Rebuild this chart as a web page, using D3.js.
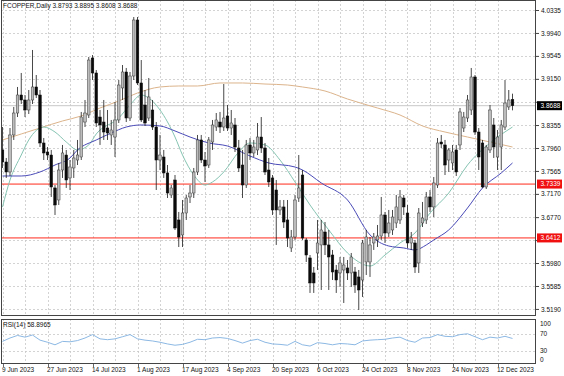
<!DOCTYPE html>
<html><head><meta charset="utf-8">
<script src="https://cdn.jsdelivr.net/npm/d3@7"></script>
<style>body{margin:0;background:#fff}svg{display:block}text{font-family:"Liberation Sans",Arial,sans-serif}</style>
</head><body><svg id="c" width="564" height="376"></svg>
<script>
// ---------------- DATA ----------------
const headerText = "FCOPPER,Daily  3.8793 3.8895 3.8608 3.8688";
const rsiText = "RSI(14) 58.8965";
const opens = [3.7926,3.7719,3.7547,3.8184,3.8562,3.8872,3.8786,3.8614,3.8786,3.9010,3.8872,3.8046,3.7891,3.7839,3.7272,3.7065,3.7581,3.7839,3.7444,3.7616,3.7753,3.7805,3.8407,3.8528,3.9509,3.9251,3.8493,3.8407,3.8304,3.8184,3.8149,3.8442,3.8993,3.9268,3.8476,3.9199,4.0163,3.9079,3.8700,3.8476,3.8614,3.8321,3.7753,3.7805,3.7530,3.7151,3.7409,3.6721,3.6463,3.6841,3.7117,3.7185,3.7547,3.8098,3.7753,3.7667,3.8063,3.8321,3.8407,3.8321,3.8511,3.8304,3.8356,3.7960,3.7667,3.7323,3.8012,3.7874,3.7926,3.8149,3.7960,3.7581,3.7444,3.7237,3.6893,3.6945,3.6721,3.6239,3.6428,3.7099,3.7495,3.6377,3.6067,3.5809,3.6153,3.6291,3.6514,3.6291,3.6118,3.5860,3.5809,3.5860,3.5895,3.5809,3.5826,3.5740,3.5688,3.5998,3.5998,3.6325,3.6377,3.6445,3.6807,3.6497,3.6549,3.6669,3.6721,3.7099,3.6841,3.6325,3.6325,3.5981,3.6669,3.6721,3.7117,3.6945,3.7323,3.8063,3.8012,3.7753,3.7702,3.7926,3.8012,3.8304,3.8476,3.8614,3.9182,3.8235,3.8046,3.7289,3.7926,3.8356,3.7805,3.7977,3.8321,3.8666,3.8793];
const highs = [3.8321,3.7788,3.8304,3.8666,3.9010,3.9251,3.8872,3.8958,3.9647,3.9216,3.8958,3.8132,3.7977,3.7926,3.7323,3.7702,3.8012,3.7926,3.7753,3.7926,3.8098,3.8580,3.8786,3.9526,3.9560,3.9302,3.8614,3.8786,3.8614,3.8442,3.8752,3.9130,3.9388,3.9337,3.9268,4.0214,4.0214,3.9474,3.8958,3.9165,3.8786,3.8407,3.8184,3.7926,3.7667,3.7323,3.7495,3.6859,3.7065,3.7151,3.7323,3.7616,3.8184,3.8184,3.7891,3.8149,3.8442,3.8562,3.8580,3.9061,3.8700,3.8614,3.8476,3.8098,3.7926,3.8098,3.8132,3.8098,3.8390,3.8493,3.8046,3.7788,3.7495,3.7409,3.7065,3.7065,3.7065,3.6549,3.7151,3.7839,3.7581,3.6411,3.6118,3.5912,3.6721,3.6721,3.6686,3.6549,3.6205,3.5946,3.6084,3.6084,3.6032,3.6153,3.5912,3.5860,3.6377,3.6549,3.6428,3.6497,3.6635,3.7117,3.6859,3.6893,3.6893,3.7151,3.7237,3.7151,3.6979,3.6514,3.6377,3.6927,3.7031,3.7203,3.7237,3.7461,3.8132,3.8184,3.8098,3.7960,3.8012,3.8012,3.8648,3.8580,3.8872,3.9337,3.9216,3.8304,3.8098,3.8012,3.8700,3.8476,3.8270,3.8442,3.9130,3.8958,3.8895];
const lows = [3.7616,3.7444,3.7478,3.8098,3.8493,3.8717,3.8493,3.8545,3.8717,3.8820,3.7977,3.7753,3.7753,3.7117,3.6807,3.6979,3.7444,3.7272,3.7237,3.7444,3.7667,3.7753,3.8321,3.8476,3.9130,3.8321,3.8012,3.8098,3.8098,3.8012,3.7805,3.8390,3.8786,3.8407,3.8425,3.9130,3.9044,3.8407,3.8339,3.8425,3.8270,3.7237,3.7581,3.7444,3.7099,3.7099,3.6549,3.6256,3.6256,3.6721,3.7013,3.7099,3.7495,3.7702,3.7375,3.7616,3.7926,3.8253,3.8218,3.8253,3.8253,3.8184,3.7891,3.7547,3.7099,3.7272,3.7753,3.7805,3.7839,3.7874,3.7495,3.7289,3.6807,3.6291,3.6807,3.6583,3.6256,3.6170,3.6377,3.7031,3.6377,3.5998,3.5465,3.5465,3.5860,3.5516,3.6118,3.5516,3.5688,3.5465,3.5568,3.5292,3.5688,3.5568,3.5465,3.5172,3.5396,3.5774,3.5740,3.6205,3.6256,3.6377,3.6325,3.6428,3.6463,3.6583,3.6652,3.6807,3.6239,3.6205,3.5809,3.5809,3.6600,3.6652,3.6859,3.6772,3.7272,3.7960,3.7495,3.7547,3.7581,3.7478,3.7926,3.8235,3.8407,3.8528,3.8184,3.7581,3.7272,3.7254,3.7874,3.7788,3.7581,3.7581,3.8270,3.8614,3.8608];
const closes = [3.7719,3.7547,3.8184,3.8562,3.8872,3.8786,3.8614,3.8786,3.9010,3.8872,3.8046,3.7874,3.7839,3.7289,3.6979,3.7581,3.7874,3.7409,3.7633,3.7788,3.7839,3.8493,3.8562,3.9474,3.9251,3.8390,3.8356,3.8235,3.8218,3.8270,3.8442,3.9044,3.9268,3.8476,3.9199,4.0163,3.9079,3.8442,3.8390,3.8838,3.8321,3.7753,3.7839,3.7530,3.7185,3.7272,3.6583,3.6428,3.6841,3.7099,3.7185,3.7547,3.8098,3.7753,3.7650,3.8098,3.8356,3.8442,3.8321,3.8476,3.8304,3.8390,3.7977,3.7616,3.7323,3.8012,3.7874,3.7977,3.8149,3.7960,3.7547,3.7375,3.6893,3.6893,3.6945,3.6686,3.6411,3.6428,3.7065,3.7272,3.6411,3.6118,3.5637,3.5637,3.6325,3.6549,3.6291,3.6084,3.5826,3.5688,3.5981,3.5946,3.5809,3.6084,3.5602,3.5516,3.6325,3.6428,3.6291,3.6428,3.6445,3.6807,3.6497,3.6669,3.6772,3.6945,3.7117,3.6945,3.6325,3.6411,3.5912,3.6841,3.6755,3.7117,3.6945,3.7358,3.8046,3.8029,3.7667,3.7926,3.7891,3.7547,3.8580,3.8493,3.8786,3.9182,3.8235,3.7805,3.7289,3.7977,3.8614,3.7977,3.8149,3.8356,3.8734,3.8786,3.8688];

const dateTickIndex = [0,12,24,36,48,60,72,84,96,108,120,132];
const dateTickLabels = ["9 Jun 2023","27 Jun 2023","14 Jul 2023","1 Aug 2023","17 Aug 2023","4 Sep 2023","20 Sep 2023","6 Oct 2023","24 Oct 2023","8 Nov 2023","24 Nov 2023","12 Dec 2023"];
const priceTicks = [4.0335,3.9940,3.9545,3.9150,3.8755,3.8355,3.7960,3.7565,3.7170,3.6770,3.6375,3.5980,3.5585,3.5190];
const levelLines = [3.7339,3.6412];
const bidPrice = 3.8688;

const maSlowIdx = [0,5,10,16,21,26,31,36,42,47,52,58,64,70,76,80,86,92,100,106,112,118,124,130,136];
const maSlow = [3.8098,3.8201,3.8304,3.8425,3.8511,3.8648,3.8769,3.8907,3.9010,3.9027,3.9027,3.9079,3.9079,3.9061,3.9044,3.9010,3.8941,3.8803,3.8648,3.8528,3.8339,3.8235,3.8149,3.8063,3.7977];
const maMidIdx = [0,5,10,14,18,20,25,29,33,37,42,46,50,55,60,66,71,78,80,85,92,98,103,107,110,113,115,119,124,128,133,136];
const maMid = [3.7478,3.7478,3.7547,3.7667,3.7788,3.7926,3.8098,3.8218,3.8321,3.8356,3.8339,3.8253,3.8149,3.8046,3.7994,3.7822,3.7702,3.7633,3.7581,3.7358,3.7065,3.6463,3.6273,3.6239,3.6205,3.6291,3.6377,3.6549,3.6927,3.7272,3.7530,3.7702];
const maFastIdx = [0,2,5,7,11,14,17,20,23,25,31,34,37,39,42,46,48,51,54,56,59,63,66,70,74,78,82,87,92,95,98,102,106,110,114,119,124,130,136];
const maFast = [3.6945,3.7409,3.7839,3.8098,3.8321,3.8235,3.8063,3.7926,3.8012,3.8201,3.8476,3.8700,3.8872,3.8820,3.8614,3.8149,3.7839,3.7495,3.7323,3.7375,3.7547,3.7891,3.8046,3.8012,3.7753,3.7375,3.6979,3.6549,3.6153,3.5998,3.5929,3.6118,3.6325,3.6497,3.6841,3.7185,3.7667,3.8046,3.8321];

const rsiIdx = [0,2,4,6,8,10,12,14,16,18,20,22,24,26,28,30,32,34,36,38,40,42,44,46,48,50,52,54,56,58,60,62,64,66,68,70,72,74,76,78,80,82,84,86,88,90,92,94,96,98,100,102,104,106,108,110,112,114,116,118,120,122,124,126,128,130,132,134,136];
const rsiValues = [52,60,66,62,67,55,50,44,52,51,54,60,68,58,56,58,63,68,58,55,53,50,46,43,45,50,57,56,60,61,59,54,48,54,57,50,46,45,43,52,44,41,49,47,44,47,46,44,53,55,56,57,60,62,54,50,60,61,68,64,63,68,70,63,56,62,60,64,58.9];
const rsiLevels = [70,30];
const rsiLabels = [{v:100,t:"100"},{v:70,t:"70"},{v:30,t:"30"},{v:0,t:"0"}];

// ---------------- LAYOUT ----------------
const L=1, R=536, T=0, B=316, RT=319, RB=364;
const FS = "6.5px";
const svg = d3.select("#c");
const n = closes.length;
const x = d3.scaleLinear().domain([0, n-1]).range([2.5, 2.5 + 3.75*(n-1)]);
const y = d3.scaleLinear().domain([3.50682, 4.05071]).range([B, T]);
const ry = d3.scaleLinear().domain([0,100]).range([363.5, 321]);

const defs = svg.append("defs");
defs.append("clipPath").attr("id","cm").append("rect").attr("x",L).attr("y",T).attr("width",R-L).attr("height",B-T);
defs.append("clipPath").attr("id","cr").append("rect").attr("x",L).attr("y",RT).attr("width",R-L).attr("height",RB-RT);

const gridColor = "#c8c8c8";
const vgrid = d3.range(0, n, 6);
// main grid
const gm = svg.append("g").attr("clip-path","url(#cm)");
gm.selectAll("line.h").data(priceTicks).join("line")
  .attr("x1",L).attr("x2",R).attr("y1",d=>Math.round(y(d))+0.5).attr("y2",d=>Math.round(y(d))+0.5)
  .attr("stroke",gridColor).attr("stroke-width",0.8).attr("stroke-dasharray","2,2");
gm.selectAll("line.v").data(vgrid).join("line")
  .attr("x1",d=>Math.round(x(d))+0.5).attr("x2",d=>Math.round(x(d))+0.5).attr("y1",T).attr("y2",B)
  .attr("stroke",gridColor).attr("stroke-width",0.8).attr("stroke-dasharray","2,2");
// rsi grid
const gr = svg.append("g").attr("clip-path","url(#cr)");
gr.selectAll("line.v").data(vgrid).join("line")
  .attr("x1",d=>Math.round(x(d))+0.5).attr("x2",d=>Math.round(x(d))+0.5).attr("y1",RT).attr("y2",RB)
  .attr("stroke",gridColor).attr("stroke-width",0.8).attr("stroke-dasharray","2,2");
gr.selectAll("line.h").data(rsiLevels).join("line")
  .attr("x1",L).attr("x2",R).attr("y1",d=>Math.round(ry(d))+0.5).attr("y2",d=>Math.round(ry(d))+0.5)
  .attr("stroke",gridColor).attr("stroke-width",0.8).attr("stroke-dasharray","2,2");

// level lines and bid line
gm.selectAll("line.lv").data(levelLines).join("line")
  .attr("x1",L).attr("x2",R).attr("y1",d=>y(d)).attr("y2",d=>y(d))
  .attr("stroke","#ff2a1a").attr("stroke-width",1);
gm.append("line").attr("x1",L).attr("x2",R).attr("y1",y(bidPrice)).attr("y2",y(bidPrice))
  .attr("stroke","#c8c8c8").attr("stroke-width",1);

// moving averages
const maLine = (idx, vals, color, w) => {
  const pts = idx.map((d,k)=>[x(d), y(vals[k])]);
  gm.append("path").attr("d", d3.line().curve(d3.curveMonotoneX)(pts))
    .attr("fill","none").attr("stroke",color).attr("stroke-width",w);
};
maLine(maSlowIdx, maSlow, "#dcb48c", 1);
maLine(maFastIdx, maFast, "#86c4b2", 1);
maLine(maMidIdx, maMid, "#4a4ab8", 1);

// candles
const idx = d3.range(n);
const bw = 2.6;
gm.selectAll("line.wick").data(idx).join("line")
  .attr("x1",i=>x(i)).attr("x2",i=>x(i)).attr("y1",i=>y(highs[i])).attr("y2",i=>y(lows[i]))
  .attr("stroke","#1a1a1a").attr("stroke-width",0.8);
gm.selectAll("rect.body").data(idx).join("rect")
  .attr("x",i=>x(i)-bw/2).attr("width",bw)
  .attr("y",i=>y(Math.max(opens[i],closes[i])))
  .attr("height",i=>Math.max(0.8, Math.abs(y(opens[i])-y(closes[i]))))
  .attr("fill",i=>closes[i]>=opens[i] ? "#bcbcbc" : "#0a0a0a")
  .attr("stroke",i=>closes[i]>=opens[i] ? "#3a3a3a" : "#0a0a0a")
  .attr("stroke-width",0.5);

// RSI line
gr.append("path").attr("d", d3.line().x((d,k)=>x(rsiIdx[k])).y(d=>ry(d))(rsiValues))
  .attr("fill","none").attr("stroke","#7fb0e0").attr("stroke-width",0.9);

// frames
svg.append("rect").attr("x",L+0.5).attr("y",T+0.5).attr("width",R-L-1).attr("height",B-T-1)
  .attr("fill","none").attr("stroke","#444").attr("stroke-width",1);
svg.append("rect").attr("x",L+0.5).attr("y",RT+0.5).attr("width",R-L-1).attr("height",RB-RT-1)
  .attr("fill","none").attr("stroke","#444").attr("stroke-width",1);

// price axis (labels hidden under marker boxes are not drawn, as in the terminal)
const markers = levelLines.concat([bidPrice]);
const ax = svg.append("g").attr("transform",`translate(${R},0)`)
  .call(d3.axisRight(y).tickValues(priceTicks).tickFormat(d3.format(".4f")).tickSize(3).tickPadding(2));
ax.select(".domain").remove();
ax.selectAll("text").attr("font-size",FS).attr("fill","#111").attr("font-family","'Liberation Sans',Arial,sans-serif")
  .attr("display", d => markers.some(m => Math.abs(y(m)-y(d)) < 8) ? "none" : null);
ax.selectAll("line").attr("stroke","#444");

// marker boxes
const box = (v, fill) => {
  const yy = y(v);
  svg.append("rect").attr("x",R+1).attr("y",yy-4.5).attr("width",25).attr("height",9).attr("fill",fill);
  svg.append("text").attr("x",R+4.5).attr("y",yy+2.3).attr("font-size",FS).attr("fill","#fff").text(d3.format(".4f")(v));
};
levelLines.forEach(v=>box(v,"#f01010"));
box(bidPrice,"#000");

// RSI labels
svg.selectAll("text.rl").data(rsiLabels).join("text")
  .attr("x",R+4).attr("y",d=>Math.min(Math.max(ry(d.v)+2.3, RT+7), RB-2)).attr("font-size",FS).attr("fill","#111").text(d=>d.t);

// date axis
svg.selectAll("line.dt").data(dateTickIndex).join("line")
  .attr("x1",d=>Math.round(x(d))+0.5).attr("x2",d=>Math.round(x(d))+0.5).attr("y1",RB).attr("y2",RB+3)
  .attr("stroke","#444").attr("stroke-width",0.8);
svg.selectAll("text.dl").data(dateTickIndex).join("text")
  .attr("x",d=>x(d)-0.5).attr("y",371.5).attr("font-size",FS).attr("fill","#111")
  .text((d,k)=>dateTickLabels[k]);

// titles
svg.append("text").attr("x",3).attr("y",8).attr("font-size",FS).attr("fill","#111").text(headerText);
svg.append("text").attr("x",3).attr("y",327).attr("font-size",FS).attr("fill","#111").text(rsiText);
</script></body></html>
